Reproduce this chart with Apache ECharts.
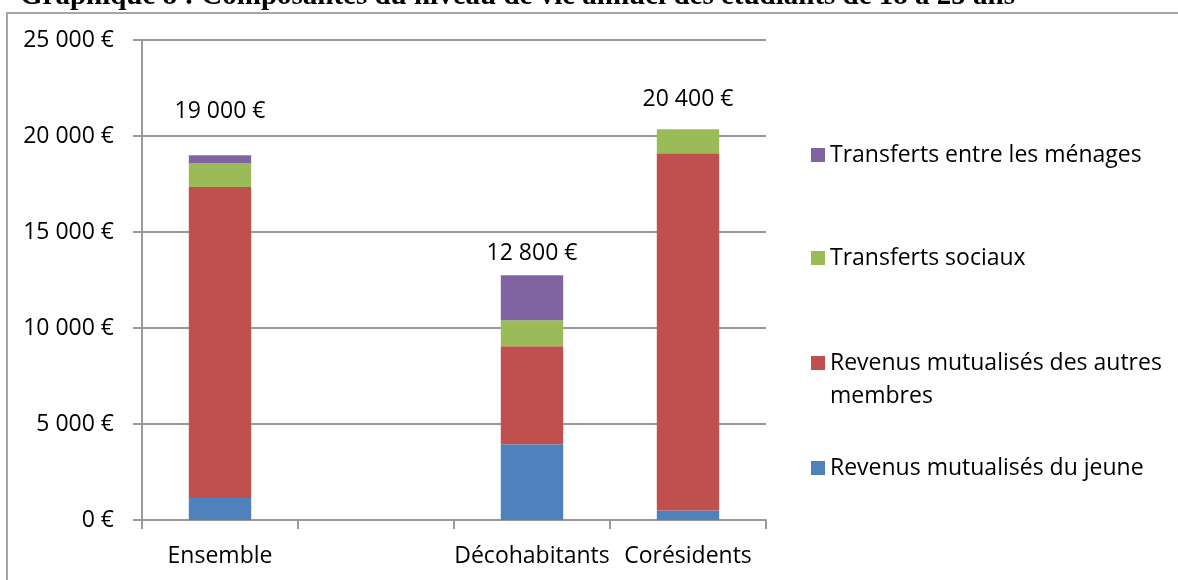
<!DOCTYPE html>
<html lang="fr">
<head>
    <meta charset="UTF-8">
    <script src="https://cdn.jsdelivr.net/npm/echarts@6/dist/echarts.min.js"></script>
    <title>Graphique 8</title>
    <style>
        html, body { margin: 0; padding: 0; background: #fff; }
        #container { width: 1178px; height: 580px; }
    </style>
</head>
<body>
    <div id="container"></div>
</body>
<script type="text/javascript">
    // données (euros par an)
    var categories = ['Ensemble', '', 'Décohabitants', 'Corésidents'];
    var revenusJeune = [1150, null, 3950, 500];
    var revenusAutres = [16200, null, 5100, 18600];
    var transfertsSociaux = [1250, null, 1350, 1250];
    var transfertsMenages = [400, null, 2350, 0];
    var totaux = [19000, null, 12800, 20400];
    var yTicks = [0, 5000, 10000, 15000, 20000, 25000];

    var noms = [
        'Revenus mutualisés du jeune',
        'Revenus mutualisés des autres membres',
        'Transferts sociaux',
        'Transferts entre les ménages'
    ];
    var couleurs = ['#4F81BD', '#C0504D', '#9BBB59', '#8064A2'];
    var labelGap = [32, null, 10, 18];

    var police = 'Open Sans';
    var taille = 23;
    var grisAxe = '#999999';

    function euros(v) {
        return String(v).replace(/\B(?=(\d{3})+(?!\d))/g, ' ') + ' €';
    }

    var dom = document.getElementById('container');
    var myChart = echarts.init(dom, null, { renderer: 'canvas' });

    function serie(i, data) {
        return {
            name: noms[i],
            type: 'bar',
            stack: 'total',
            barWidth: '40%',
            itemStyle: { color: couleurs[i] },
            emphasis: { disabled: true },
            data: data
        };
    }

    var series = [
        serie(0, revenusJeune),
        serie(1, revenusAutres),
        serie(2, transfertsSociaux),
        serie(3, transfertsMenages)
    ];
    // étiquettes des totaux au-dessus de la dernière pile
    series[3].data = transfertsMenages.map(function (v, i) {
        if (v === null) return null;
        return {
            value: v,
            label: {
                show: true,
                position: 'top',
                distance: labelGap[i],
                formatter: euros(totaux[i]),
                fontFamily: police,
                fontSize: taille,
                color: '#000'
            }
        };
    });

    function legende(i, top, texte) {
        return {
            orient: 'vertical',
            left: 811,
            top: top,
            padding: 0,
            itemWidth: 14,
            itemHeight: 14,
            icon: 'rect',
            selectedMode: false,
            data: [noms[i]],
            formatter: function () { return texte; },
            textStyle: { fontFamily: police, fontSize: taille, color: '#000', lineHeight: 33 }
        };
    }

    var option = {
        animation: false,
        graphic: [
            {
                type: 'rect',
                shape: { x: 7, y: 13, width: 1200, height: 620 },
                style: { fill: 'none', stroke: '#a6a6a6', lineWidth: 2 },
                silent: true
            },
            {
                type: 'text',
                left: 20,
                top: -18,
                style: {
                    text: 'Graphique 8 : Composantes du niveau de vie annuel des étudiants de 18 à 25 ans',
                    font: 'bold 29px "Liberation Serif"',
                    fill: '#000'
                },
                silent: true
            }
        ],
        grid: { left: 142, right: 412, top: 40, bottom: 60 },
        legend: [
            legende(3, 138.5, 'Transferts entre les ménages'),
            legende(2, 241.5, 'Transferts sociaux'),
            // ligne vide en tête pour garder le carré à hauteur de la première ligne
            legende(1, 313.5, ' \nRevenus mutualisés des autres\nmembres'),
            legende(0, 451.5, 'Revenus mutualisés du jeune')
        ],
        xAxis: {
            type: 'category',
            data: categories,
            axisLine: { lineStyle: { color: grisAxe, width: 2 } },
            axisTick: { show: true, length: 9, lineStyle: { color: grisAxe, width: 2 } },
            axisLabel: { interval: 0, fontFamily: police, fontSize: taille, color: '#000', margin: 25 }
        },
        yAxis: {
            type: 'value',
            min: yTicks[0],
            max: yTicks[yTicks.length - 1],
            interval: yTicks[1] - yTicks[0],
            axisLine: { show: true, lineStyle: { color: grisAxe, width: 2 } },
            axisTick: { show: true, length: 9, lineStyle: { color: grisAxe, width: 2 } },
            splitLine: { lineStyle: { color: grisAxe, width: 2 } },
            axisLabel: {
                fontFamily: police,
                fontSize: taille,
                color: '#000',
                margin: 28,
                formatter: function (v) { return euros(v); }
            }
        },
        series: series
    };

    myChart.setOption(option);
    window.addEventListener('resize', myChart.resize);
</script>
</html>
